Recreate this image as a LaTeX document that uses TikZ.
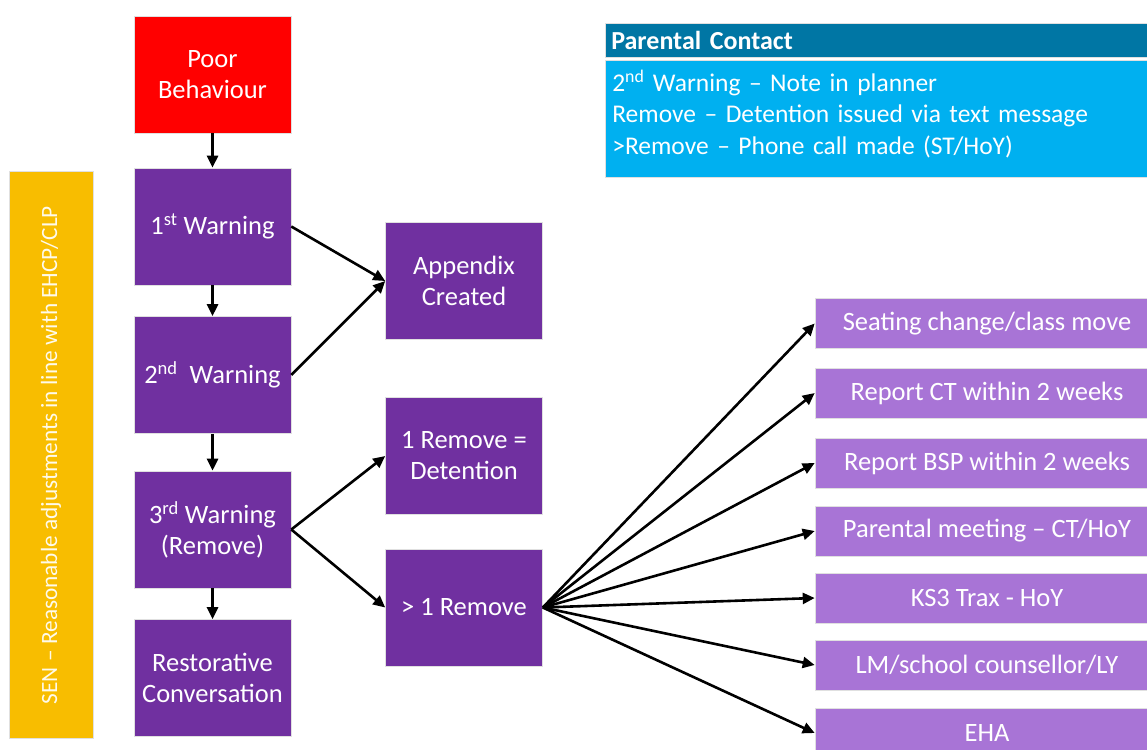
\documentclass[tikz,border=0pt]{standalone}
\usepackage{fontspec}
\setmainfont{Carlito}
\usepackage{xcolor}
\usepackage{tikz}
\usetikzlibrary{arrows.meta}
\definecolor{poorred}{HTML}{FF0000}
\definecolor{stepviolet}{HTML}{7030A0}
\definecolor{lightviolet}{HTML}{A874D6}
\definecolor{senyellow}{HTML}{F8BD00}
\definecolor{headteal}{HTML}{0076A4}
\definecolor{bodycyan}{HTML}{00B0F0}

\begin{document}
\begin{tikzpicture}[x=1pt,y=-1pt,>={Triangle[length=12pt,width=11pt]},line width=2.6pt]
            \tikzstyle{stepbox}=[rectangle,draw=black!12,line width=0.6pt,fill=stepviolet,text=white,minimum width=157pt,minimum height=117pt,inner sep=2pt,align=center,font=\fontsize{26.5}{31}\selectfont]
            \tikzstyle{outbox}=[stepbox,fill=lightviolet,minimum width=344pt,minimum height=50pt]
            \tikzstyle{senbar}=[rectangle,draw=black!12,line width=0.6pt,fill=senyellow,text=white!92!senyellow,rotate=90,minimum width=567pt,minimum height=84pt,font=\fontsize{23.3}{28}\selectfont]
            \tikzstyle{headbox}=[rectangle,draw=black!12,line width=0.6pt,fill=headteal,text=white,text width=548pt,inner xsep=6pt,minimum height=34pt,align=left,font=\fontsize{26}{30}\selectfont\bfseries]
            \tikzstyle{bodybox}=[headbox,fill=bodycyan,minimum height=117pt]
            \tikzstyle{bodytext}=[text=white,text width=548pt,inner xsep=6pt,inner ysep=0pt,align=left,font=\fontsize{25.5}{31.5}\selectfont]
            \useasboundingbox (0,0) rectangle (1147,749);
            \clip (0,0) rectangle (1147,749);

            \node[stepbox,fill=poorred] (S-poor) at (212.5,74.5) {Poor\\Behaviour};
            \node[stepbox] (S-1) at (212.5,226.5) {1\textsuperscript{st} Warning};
            \node[stepbox] (S-2) at (212.5,375) {2\textsuperscript{nd}\ \ Warning};
            \node[stepbox] (S-3) at (212.5,529.5) {3\textsuperscript{rd} Warning\\(Remove)};
            \node[stepbox] (S-rest) at (212.5,678) {Restorative\\Conversation};
            \node[stepbox] (S-app) at (464,281) {Appendix\\Created};
            \node[stepbox] (S-det) at (464,456) {1 Remove =\\Detention};
            \node[stepbox] (S-more) at (464,607.5) {> 1 Remove};

            \node[senbar] (sen) at (51,455) {SEN – Reasonable adjustments in line with EHCP/CLP};

            \node[headbox,anchor=north west] (P-head) at (605,23) {Parental Contact};
            \node[bodybox,anchor=north west] (P-body) at (605,60) {};
            \node[bodytext,anchor=west] (P-text) at ([yshift=5pt]P-body.west) {2\textsuperscript{nd} Warning – Note in planner\\Remove – Detention issued via text message\\>Remove – Phone call made (ST/HoY)};

            \foreach \num/\y/\txt in {1/323.5/{Seating change/class move}, 2/393/{Report CT within 2 weeks}, 3/463/{Report BSP within 2 weeks}, 4/531/{Parental meeting – CT/HoY}, 5/598/{KS3 Trax - HoY}, 6/665/{LM/school counsellor/LY}, 7/733/{EHA}}
                    \node[outbox] (O-\num) at (987,\y) {\txt};

            \foreach \from/\to in {poor/1, 1/2, 2/3, 3/rest}
                \draw[->] (S-\from) -- (S-\to);

            \draw[->] (S-1.east) -- (S-app.west);
            \draw[->] (S-2.east) -- (S-app.west);
            \draw[->] (S-3.east) -- (S-det.west);
            \draw[->] (S-3.east) -- (S-more.west);

            \foreach \num in {1,...,7}
                \draw[->] (S-more.east) -- (O-\num.west);
        \end{tikzpicture}
\end{document}
